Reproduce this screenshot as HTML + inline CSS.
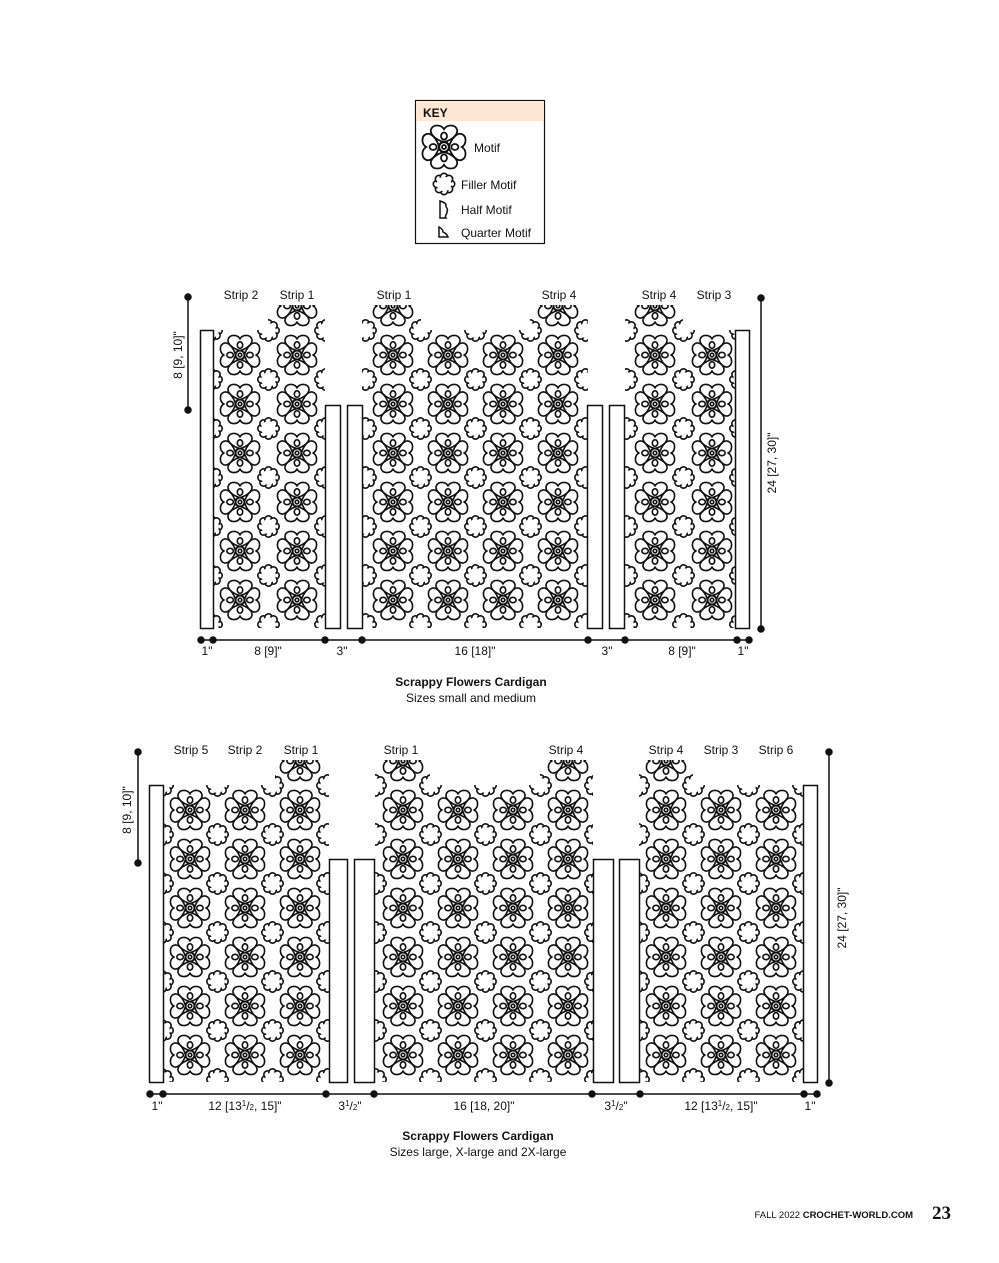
<!DOCTYPE html>
<html><head><meta charset="utf-8">
<style>
html,body{margin:0;padding:0;background:#fff;}
svg{display:block;}
text{font-family:"Liberation Sans",Arial,sans-serif;fill:#111;}
</style></head>
<body>
<svg width="999" height="1263" viewBox="0 0 999 1263" xmlns="http://www.w3.org/2000/svg">
<defs>
  <path id="pa" d="M0,-5 C-8,-7 -15,-13 -13,-18 C-11,-23 -3,-23 0,-18 C3,-23 11,-23 13,-18 C15,-13 8,-7 0,-5Z"/>
  <path id="pd" d="M0,-5 C-7,-7 -12,-12 -10,-17 C-8,-21 -2,-20 0,-17 C2,-20 8,-21 10,-17 C12,-12 7,-7 0,-5Z"/>
  <g id="m" stroke="#111" stroke-width="1.8" fill="#fff" transform="scale(0.9)">
    <use href="#pd" transform="rotate(45)"/><use href="#pd" transform="rotate(135)"/>
    <use href="#pd" transform="rotate(225)"/><use href="#pd" transform="rotate(315)"/>
    <use href="#pa"/><use href="#pa" transform="rotate(90)"/>
    <use href="#pa" transform="rotate(180)"/><use href="#pa" transform="rotate(270)"/>
    <ellipse cx="0" cy="-11" rx="3" ry="3.6"/><ellipse cx="11" cy="0" rx="3.6" ry="3"/>
    <ellipse cx="0" cy="11" rx="3" ry="3.6"/><ellipse cx="-11" cy="0" rx="3.6" ry="3"/>
    <circle r="4.8"/><circle r="2"/>
  </g>
  <g id="f">
    <g stroke="#111" stroke-width="1.6" fill="#fff">
      <circle cx="7" cy="0" r="3.7"/><circle cx="4.95" cy="4.95" r="3.7"/><circle cx="0" cy="7" r="3.7"/><circle cx="-4.95" cy="4.95" r="3.7"/>
      <circle cx="-7" cy="0" r="3.7"/><circle cx="-4.95" cy="-4.95" r="3.7"/><circle cx="0" cy="-7" r="3.7"/><circle cx="4.95" cy="-4.95" r="3.7"/>
    </g>
    <circle r="7.3" fill="#fff"/>
  </g>
  <g id="tile57">
    <use href="#m" x="0" y="0"/><use href="#m" x="57" y="0"/><use href="#m" x="0" y="49"/><use href="#m" x="57" y="49"/>
    <use href="#f" x="28.5" y="24.5"/>
  </g>
  <g id="tile55">
    <use href="#m" x="0" y="0"/><use href="#m" x="55" y="0"/><use href="#m" x="0" y="49"/><use href="#m" x="55" y="49"/>
    <use href="#f" x="27.5" y="24.5"/>
  </g>
  <pattern id="pTL" patternUnits="userSpaceOnUse" x="240" y="355" width="57" height="49"><use href="#tile57"/></pattern>
  <pattern id="pTC" patternUnits="userSpaceOnUse" x="393" y="355" width="55" height="49"><use href="#tile55"/></pattern>
  <pattern id="pTR" patternUnits="userSpaceOnUse" x="655" y="355" width="57" height="49"><use href="#tile57"/></pattern>
  <pattern id="pBL" patternUnits="userSpaceOnUse" x="190" y="810" width="55" height="49"><use href="#tile55"/></pattern>
  <pattern id="pBC" patternUnits="userSpaceOnUse" x="403" y="810" width="55" height="49"><use href="#tile55"/></pattern>
  <pattern id="pBR" patternUnits="userSpaceOnUse" x="666" y="810" width="55" height="49"><use href="#tile55"/></pattern>
</defs>

<!-- KEY -->
<rect x="415.5" y="100.5" width="129" height="143" fill="#fff" stroke="#111" stroke-width="1.2"/>
<rect x="416" y="101" width="128" height="20" fill="#fde6d4"/>
<text x="423" y="117" font-size="12" font-weight="bold">KEY</text>
<use href="#m" transform="translate(444,147) scale(1.1)"/>
<text x="474" y="152" font-size="12">Motif</text>
<use href="#f" x="444" y="184"/>
<text x="461" y="189" font-size="12">Filler Motif</text>
<path d="M440,201 L440,218 L446,218 C444,215 448,214 447,211 C449,209 445,207 446,205 C446,203 443,202 440,201Z" fill="#fff" stroke="#111" stroke-width="1.5"/>
<text x="461" y="214" font-size="12">Half Motif</text>
<path d="M439,227 L439,237 L448,237 C447,234 445,233 443,232 C443,230 441,228 439,227Z" fill="#fff" stroke="#111" stroke-width="1.5"/>
<text x="461" y="237" font-size="12">Quarter Motif</text>

<!-- TOP DIAGRAM -->
<g font-size="12">
<text x="241" y="299" text-anchor="middle">Strip 2</text>
<text x="297" y="299" text-anchor="middle">Strip 1</text>
<text x="394" y="299" text-anchor="middle">Strip 1</text>
<text x="559" y="299" text-anchor="middle">Strip 4</text>
<text x="659" y="299" text-anchor="middle">Strip 4</text>
<text x="714" y="299" text-anchor="middle">Strip 3</text>
</g>
<path d="M213,330 L268,330 L268,305 L325,305 L325,628 L213,628Z" fill="url(#pTL)"/>
<path d="M362,305 L421,305 L421,330 L530,330 L530,305 L588,305 L588,628 L362,628Z" fill="url(#pTC)"/>
<path d="M625,305 L683,305 L683,330 L735,330 L735,628 L625,628Z" fill="url(#pTR)"/>
<g fill="#fff" stroke="#111" stroke-width="1.5">
<rect x="200.5" y="330.5" width="13" height="298"/>
<rect x="325.5" y="405.5" width="15" height="223"/>
<rect x="347.5" y="405.5" width="15" height="223"/>
<rect x="587.5" y="405.5" width="15" height="223"/>
<rect x="609.5" y="405.5" width="15" height="223"/>
<rect x="735.5" y="330.5" width="14" height="298"/>
</g>
<g stroke="#111" stroke-width="1.5" fill="#111">
<line x1="188" y1="297" x2="188" y2="410"/><circle cx="188" cy="297" r="3"/><circle cx="188" cy="410" r="3"/>
<line x1="761" y1="298" x2="761" y2="629"/><circle cx="761" cy="298" r="3"/><circle cx="761" cy="629" r="3"/>
<line x1="201" y1="640" x2="749" y2="640"/>
<circle cx="201" cy="640" r="3"/><circle cx="213" cy="640" r="3"/><circle cx="325" cy="640" r="3"/><circle cx="362" cy="640" r="3"/>
<circle cx="588" cy="640" r="3"/><circle cx="625" cy="640" r="3"/><circle cx="737" cy="640" r="3"/><circle cx="749" cy="640" r="3"/>
</g>
<g font-size="12" text-anchor="middle">
<text x="207" y="655">1"</text>
<text x="268" y="655">8 [9]"</text>
<text x="342" y="655">3"</text>
<text x="475" y="655">16 [18]"</text>
<text x="607" y="655">3"</text>
<text x="682" y="655">8 [9]"</text>
<text x="743" y="655">1"</text>
<text transform="translate(182,355) rotate(-90)">8 [9, 10]"</text>
<text transform="translate(776,463) rotate(-90)">24 [27, 30]"</text>
<text x="471" y="686" font-weight="bold">Scrappy Flowers Cardigan</text>
<text x="471" y="702">Sizes small and medium</text>
</g>

<!-- BOTTOM DIAGRAM -->
<g font-size="12" text-anchor="middle">
<text x="191" y="754">Strip 5</text>
<text x="245" y="754">Strip 2</text>
<text x="301" y="754">Strip 1</text>
<text x="401" y="754">Strip 1</text>
<text x="566" y="754">Strip 4</text>
<text x="666" y="754">Strip 4</text>
<text x="721" y="754">Strip 3</text>
<text x="776" y="754">Strip 6</text>
</g>
<path d="M163,785 L275,785 L275,760 L329,760 L329,1082 L163,1082Z" fill="url(#pBL)"/>
<path d="M375,760 L430,760 L430,785 L540,785 L540,760 L593,760 L593,1082 L375,1082Z" fill="url(#pBC)"/>
<path d="M639,760 L693,760 L693,785 L803,785 L803,1082 L639,1082Z" fill="url(#pBR)"/>
<g fill="#fff" stroke="#111" stroke-width="1.5">
<rect x="149.5" y="785.5" width="14" height="297"/>
<rect x="329.5" y="859.5" width="18" height="223"/>
<rect x="354.5" y="859.5" width="20" height="223"/>
<rect x="593.5" y="859.5" width="20" height="223"/>
<rect x="619.5" y="859.5" width="20" height="223"/>
<rect x="803.5" y="785.5" width="14" height="297"/>
</g>
<g stroke="#111" stroke-width="1.5" fill="#111">
<line x1="138" y1="752" x2="138" y2="863"/><circle cx="138" cy="752" r="3"/><circle cx="138" cy="863" r="3"/>
<line x1="829" y1="752" x2="829" y2="1083"/><circle cx="829" cy="752" r="3"/><circle cx="829" cy="1083" r="3"/>
<line x1="150" y1="1094" x2="817" y2="1094"/>
<circle cx="150" cy="1094" r="3"/><circle cx="163" cy="1094" r="3"/><circle cx="326" cy="1094" r="3"/><circle cx="374" cy="1094" r="3"/>
<circle cx="592" cy="1094" r="3"/><circle cx="640" cy="1094" r="3"/><circle cx="804" cy="1094" r="3"/><circle cx="817" cy="1094" r="3"/>
</g>
<g font-size="12" text-anchor="middle">
<text x="157" y="1110">1"</text>
<text x="245" y="1110">12 [13<tspan font-size="8" dy="-4">1</tspan><tspan dy="4">/</tspan><tspan font-size="8">2</tspan>, 15]"</text>
<text x="350" y="1110">3<tspan font-size="8" dy="-4">1</tspan><tspan dy="4">/</tspan><tspan font-size="8">2</tspan>"</text>
<text x="484" y="1110">16 [18, 20]"</text>
<text x="616" y="1110">3<tspan font-size="8" dy="-4">1</tspan><tspan dy="4">/</tspan><tspan font-size="8">2</tspan>"</text>
<text x="721" y="1110">12 [13<tspan font-size="8" dy="-4">1</tspan><tspan dy="4">/</tspan><tspan font-size="8">2</tspan>, 15]"</text>
<text x="810" y="1110">1"</text>
<text transform="translate(131,810) rotate(-90)">8 [9, 10]"</text>
<text transform="translate(846,918) rotate(-90)">24 [27, 30]"</text>
<text x="478" y="1140" font-weight="bold">Scrappy Flowers Cardigan</text>
<text x="478" y="1156">Sizes large, X-large and 2X-large</text>
</g>

<!-- FOOTER -->
<text x="913" y="1218" font-size="9.5" text-anchor="end">FALL 2022 <tspan font-weight="bold">CROCHET-WORLD.COM</tspan></text>
<text x="932" y="1219" font-size="19" font-weight="bold" style="font-family:'Liberation Serif',serif">23</text>
</svg>
</body></html>
